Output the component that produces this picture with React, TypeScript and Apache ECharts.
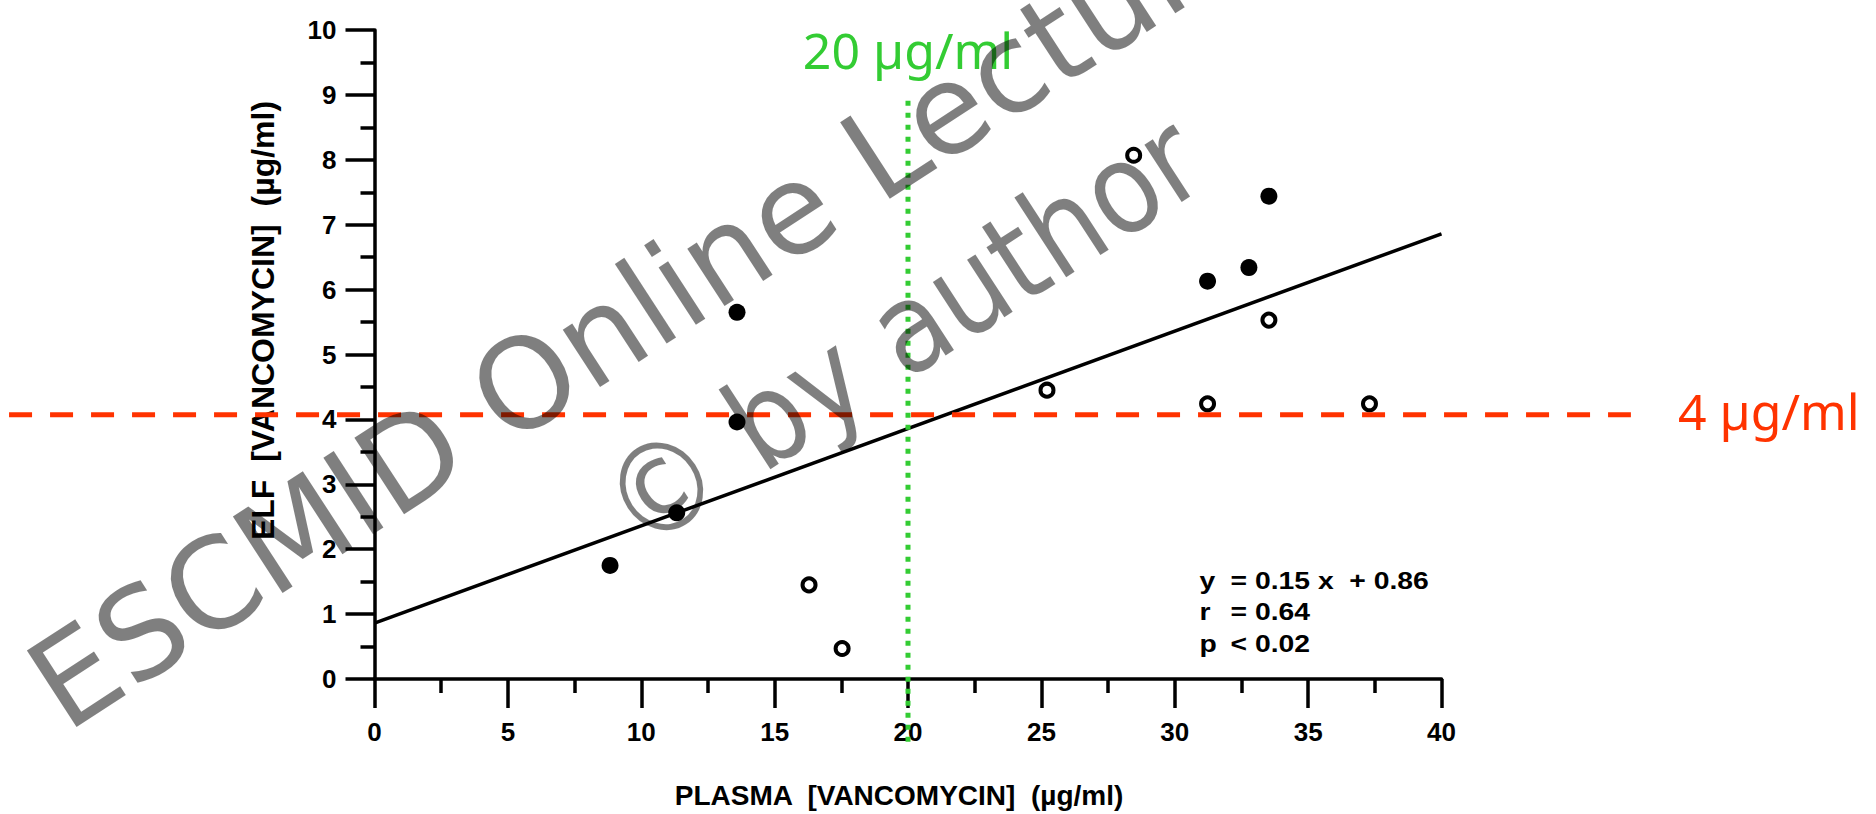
import React, { useEffect, useRef } from "react";
import * as echarts from "echarts";

// ---- data ----
const filledPlasma = [8.83, 11.33, 13.59, 13.59, 31.23, 32.78, 33.53];
const filledElf = [1.75, 2.56, 5.65, 3.96, 6.13, 6.34, 7.44];
const openPlasma = [16.29, 17.53, 25.21, 28.46, 31.23, 33.53, 37.3];
const openElf = [1.45, 0.47, 4.45, 8.07, 4.24, 5.53, 4.24];
const fitPlasma = [0, 40];
const fitElf = [0.86, 6.86];

const xMin = 0;
const xMax = 40;
const xStep = 5;
const yMin = 0;
const yMax = 10;
const yStep = 1;

const plasmaCutoff = 20;
const plasmaCutoffSpan = [8.91, -1.04];
const elfCutoff = 4.07;
const elfCutoffSpan = [-13.7, 47.1];

const plasmaLabel = "20 µg/ml";
const elfLabel = "4 µg/ml";
const xTitle = "PLASMA  [VANCOMYCIN]  (µg/ml)";
const yTitle = "ELF  [VANCOMYCIN]  (µg/ml)";
const statNames = ["y", "r", "p"];
const statValues = ["= 0.15 x  + 0.86", "= 0.64", "< 0.02"];
const watermarkLines = ["ESCMID Online Lecture Library", "© by author"];

const zip = (a: number[], b: number[]) => a.map((v, i) => [v, b[i]]);

const AXIS_FONT = "'Liberation Sans', Arial, sans-serif";

export default function App() {
  const ref = useRef<HTMLDivElement>(null);

  useEffect(() => {
    if (!ref.current) return;
    const chart = echarts.init(ref.current, null, { renderer: "svg" });
    const tickLine = { color: "#000", width: 3.5 };
    chart.setOption({
      animation: false,
      backgroundColor: "#fff",
      grid: { left: 374.5, right: 434.5, top: 30, bottom: 132, containLabel: false },
      xAxis: {
        type: "value",
        min: xMin,
        max: xMax,
        interval: xStep,
        splitLine: { show: false },
        axisLine: { show: true, lineStyle: tickLine },
        axisTick: { show: true, length: 29, lineStyle: tickLine },
        minorTick: { show: true, splitNumber: 2, length: 14, lineStyle: tickLine },
        axisLabel: {
          margin: 40,
          fontSize: 26,
          fontWeight: "bold",
          fontFamily: AXIS_FONT,
          color: "#000",
        },
        name: xTitle,
        nameLocation: "middle",
        nameGap: 102,
        nameTextStyle: {
          fontSize: 28,
          fontWeight: "bold",
          fontFamily: AXIS_FONT,
          color: "#000",
          padding: [0, 18, 0, 0],
        },
      },
      yAxis: {
        type: "value",
        min: yMin,
        max: yMax,
        interval: yStep,
        splitLine: { show: false },
        axisLine: { show: true, lineStyle: tickLine },
        axisTick: { show: true, length: 29, lineStyle: tickLine },
        minorTick: { show: true, splitNumber: 2, length: 14, lineStyle: tickLine },
        axisLabel: {
          margin: 38,
          fontSize: 26,
          fontWeight: "bold",
          fontFamily: AXIS_FONT,
          color: "#000",
          padding: [0, 0, 12, 0],
        },
        name: yTitle,
        nameLocation: "middle",
        nameRotate: 90,
        nameGap: 96,
        nameTextStyle: {
          fontSize: 32,
          fontWeight: "bold",
          fontFamily: AXIS_FONT,
          color: "#000",
          padding: [0, 0, 0, 68],
        },
      },
      series: [
        {
          name: "fit",
          type: "line",
          data: zip(fitPlasma, fitElf),
          showSymbol: false,
          symbol: "none",
          lineStyle: { color: "#000", width: 3.5 },
          z: 3,
        },
        {
          name: "filled",
          type: "scatter",
          data: zip(filledPlasma, filledElf),
          symbol: "circle",
          symbolSize: 17,
          itemStyle: { color: "#000", opacity: 1 },
          z: 4,
        },
        {
          name: "open",
          type: "scatter",
          data: zip(openPlasma, openElf),
          symbol: "circle",
          symbolSize: 13,
          itemStyle: { color: "#fff", borderColor: "#000", borderWidth: 4, opacity: 1 },
          z: 4,
        },
      ],
    });

    const px = (x: number, y: number) =>
      chart.convertToPixel({ gridIndex: 0 }, [x, y]) as number[];

    const gTop = px(plasmaCutoff, plasmaCutoffSpan[0]);
    const gBot = px(plasmaCutoff, plasmaCutoffSpan[1]);
    const rL = px(elfCutoffSpan[0], elfCutoff);
    const rR = px(elfCutoffSpan[1], elfCutoff);
    const statAnchor = px(30.93, 1.52);

    const rot = (33 * Math.PI) / 180;
    const wmFont = 125;

    const statStyle = (text: string) => ({
      text,
      fill: "#000",
      font: `bold 24px ${AXIS_FONT}`,
      textAlign: "left",
      textVerticalAlign: "middle",
    });
    const statTexts: any[] = [];
    statNames.forEach((n, i) => {
      const y = statAnchor[1] + i * 31.5;
      statTexts.push({
        type: "text",
        x: statAnchor[0],
        y,
        scaleX: 1.18,
        z: 20,
        style: statStyle(n),
      });
      statTexts.push({
        type: "text",
        x: statAnchor[0] + 31,
        y,
        scaleX: 1.18,
        z: 20,
        style: statStyle(statValues[i]),
      });
    });

    chart.setOption({
      graphic: [
        {
          type: "line",
          z: 10,
          shape: { x1: gTop[0], y1: gTop[1], x2: gBot[0], y2: gBot[1] },
          style: { stroke: "#33CC33", lineWidth: 5, lineDash: [5, 7] },
        },
        {
          type: "line",
          z: 10,
          shape: { x1: rL[0], y1: rL[1], x2: rR[0], y2: rR[1] },
          style: { stroke: "#FF3300", lineWidth: 5, lineDash: [23, 18] },
        },
        {
          type: "text",
          x: gTop[0],
          y: gTop[1] - 51,
          z: 10,
          style: {
            text: plasmaLabel,
            fill: "#33CC33",
            font: "50px 'Noto Sans', 'DejaVu Sans', sans-serif",
            textAlign: "center",
            textVerticalAlign: "middle",
          },
        },
        {
          type: "text",
          x: rR[0] + 47,
          y: rR[1] - 4,
          z: 10,
          style: {
            text: elfLabel,
            fill: "#FF3300",
            font: "50px 'Noto Sans', 'DejaVu Sans', sans-serif",
            textAlign: "left",
            textVerticalAlign: "middle",
          },
        },
        ...statTexts,
        {
          type: "text",
          x: 845,
          y: 176,
          rotation: rot,
          z: 100,
          silent: true,
          style: {
            text: watermarkLines[0],
            fill: "rgba(0,0,0,0.5)",
            font: `${wmFont}px 'DejaVu Sans', sans-serif`,
            textAlign: "center",
            textVerticalAlign: "middle",
          },
        },
        {
          type: "text",
          x: 616,
          y: 518,
          rotation: rot,
          scaleX: 0.886,
          z: 100,
          silent: true,
          style: {
            text: watermarkLines[1],
            fill: "rgba(0,0,0,0.5)",
            font: `${wmFont}px 'DejaVu Sans', sans-serif`,
            textAlign: "left",
            textVerticalAlign: "middle",
          },
        },
      ],
    });

    return () => chart.dispose();
  }, []);

  return (
    <div
      ref={ref}
      style={{ position: "fixed", left: 0, top: 0, width: 1876, height: 814, background: "#fff" }}
    />
  );
}
